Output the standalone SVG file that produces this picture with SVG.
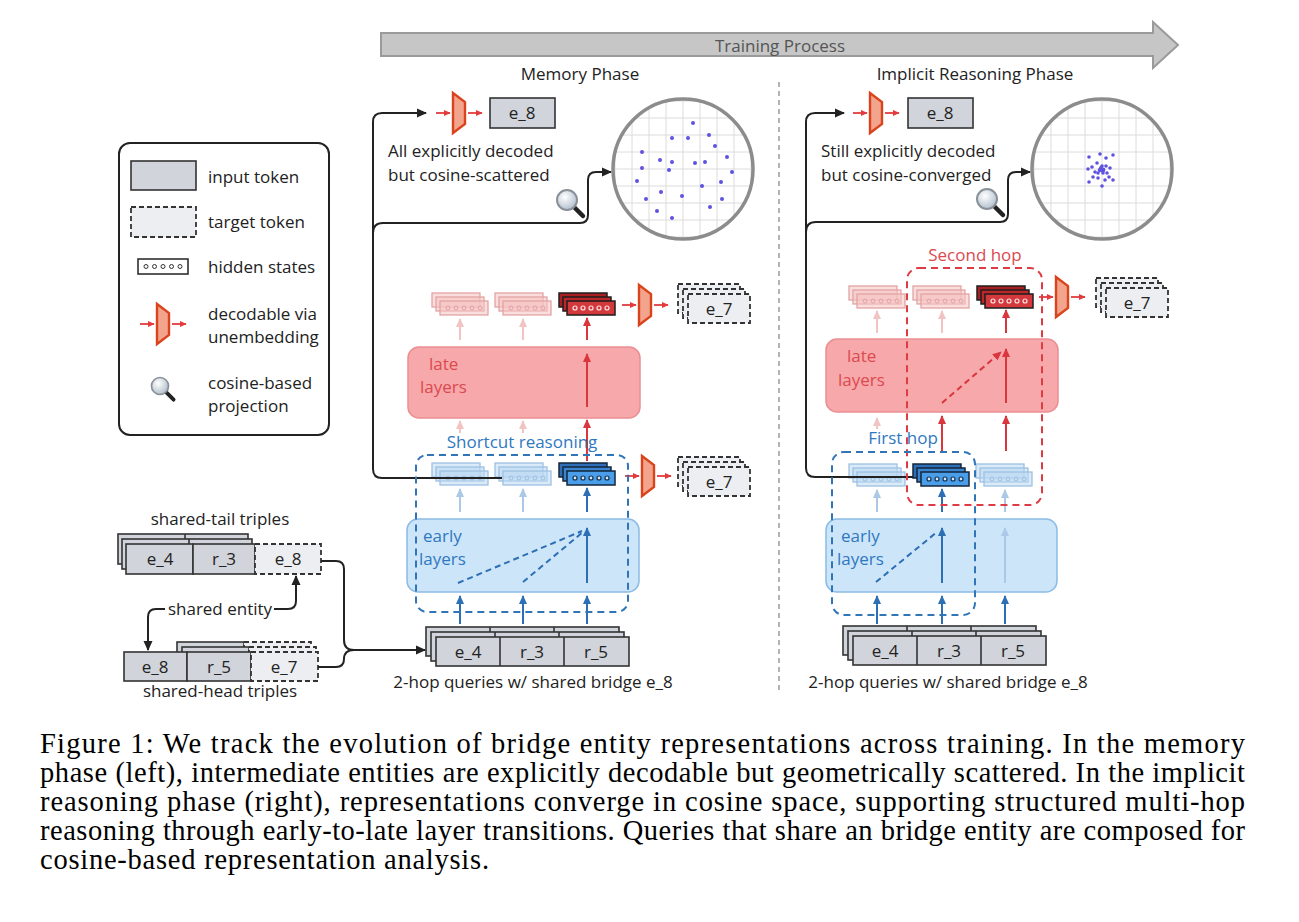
<svg xmlns="http://www.w3.org/2000/svg" width="1299" height="922" viewBox="0 0 1299 922">
<defs>
<style>
text{font-family:"Open Sans","Noto Sans","DejaVu Sans",sans-serif;font-size:17px;fill:#222}
.cap{font-family:"Liberation Serif","Times New Roman",serif;font-size:28.5px;fill:#000}
.mid{text-anchor:middle}
.tok{fill:#d1d4da;stroke:#333;stroke-width:1.6}
.tgt{fill:#eceef1;stroke:#333;stroke-width:1.8;stroke-dasharray:5 3}
.blk{fill:none;stroke:#222;stroke-width:2}
.ab{stroke:#2c6fb4;stroke-width:2;fill:none}
.abf{stroke:#abc9e6;stroke-width:2;fill:none}
.ar{stroke:#d9363e;stroke-width:2;fill:none}
.arf{stroke:#f2c3c3;stroke-width:2;fill:none}
.dash{stroke-dasharray:6 4}
.decar{stroke:#e23b3b;stroke-width:1.8;fill:none}
.bluet{fill:#2f78c0}
.redt{fill:#db4a4f}
.late{fill:#f7a8ab;stroke:#ea8e92;stroke-width:1.5}
.early{fill:#cde5f9;stroke:#8bbce5;stroke-width:1.5}
.grid{stroke:#dcdcdc;stroke-width:1}
.dot{fill:#5e52e0}
.ring{fill:none;stroke:#8c8c8c;stroke-width:3.5}
</style>
<marker id="mk" viewBox="0 0 10 10" refX="9" refY="5" markerWidth="10" markerHeight="10" markerUnits="userSpaceOnUse" orient="auto"><path d="M0,0.5L10,5L0,9.5z" fill="#222"/></marker>
<marker id="mb" viewBox="0 0 10 10" refX="9" refY="5" markerWidth="9" markerHeight="9" markerUnits="userSpaceOnUse" orient="auto"><path d="M0,0.5L10,5L0,9.5z" fill="#2c6fb4"/></marker>
<marker id="mbf" viewBox="0 0 10 10" refX="9" refY="5" markerWidth="9" markerHeight="9" markerUnits="userSpaceOnUse" orient="auto"><path d="M0,0.5L10,5L0,9.5z" fill="#abc9e6"/></marker>
<marker id="mr" viewBox="0 0 10 10" refX="9" refY="5" markerWidth="9" markerHeight="9" markerUnits="userSpaceOnUse" orient="auto"><path d="M0,0.5L10,5L0,9.5z" fill="#d9363e"/></marker>
<marker id="mrf" viewBox="0 0 10 10" refX="9" refY="5" markerWidth="9" markerHeight="9" markerUnits="userSpaceOnUse" orient="auto"><path d="M0,0.5L10,5L0,9.5z" fill="#f2c3c3"/></marker>
<marker id="md" viewBox="0 0 10 10" refX="9" refY="5" markerWidth="7" markerHeight="7" markerUnits="userSpaceOnUse" orient="auto"><path d="M0,0.5L10,5L0,9.5z" fill="#e23b3b"/></marker>
<radialGradient id="lens" cx="40%" cy="35%" r="70%"><stop offset="0" stop-color="#ffffff"/><stop offset="1" stop-color="#aebccb"/></radialGradient>
<clipPath id="c1"><circle cx="683" cy="169" r="70"/></clipPath>
<clipPath id="c2"><circle cx="1102" cy="169" r="70"/></clipPath>
<g id="dec">
<line class="decar" x1="-17" y1="20" x2="-3" y2="20" marker-end="url(#md)"/>
<line class="decar" x1="15" y1="20" x2="29" y2="20" marker-end="url(#md)"/>
<polygon points="0,0 12,9 12,31 0,40" fill="#f3a48c" stroke="#d9441d" stroke-width="2.4" stroke-linejoin="miter"/>
</g>
<g id="dots5"><circle cx="16" cy="15" r="2"/><circle cx="24" cy="15" r="2"/><circle cx="32" cy="15" r="2"/><circle cx="40" cy="15" r="2"/><circle cx="48" cy="15" r="2"/></g>
<g id="hsR" stroke="#1e1e1e" stroke-width="1.5">
<rect x="0" y="0" width="48" height="14" fill="#a81f22"/><rect x="4" y="4" width="48" height="14" fill="#bb2629"/><rect x="8" y="8" width="48" height="14" fill="#d3383c"/>
<use href="#dots5" fill="none" stroke="#fbe3e3" stroke-width="1.2"/>
</g>
<g id="hsRf" stroke="#e3a3a3" stroke-width="1.3">
<rect x="0" y="0" width="48" height="14" fill="#f5c2c2" fill-opacity=".55"/><rect x="4" y="4" width="48" height="14" fill="#f5c2c2" fill-opacity=".55"/><rect x="8" y="8" width="48" height="14" fill="#f5c2c2" fill-opacity=".55"/>
<use href="#dots5" fill="none" stroke="#e3a1a1" stroke-width="1"/>
</g>
<g id="hsB" stroke="#14263a" stroke-width="1.5">
<rect x="0" y="0" width="48" height="14" fill="#2f6fb8"/><rect x="4" y="4" width="48" height="14" fill="#3a84d0"/><rect x="8" y="8" width="48" height="14" fill="#4a9de8"/>
<use href="#dots5" fill="#d6e8f8" stroke="#15304d" stroke-width="1.2"/>
</g>
<g id="hsBf" stroke="#9dc0e2" stroke-width="1.3">
<rect x="0" y="0" width="48" height="14" fill="#bcd8f2" fill-opacity=".55"/><rect x="4" y="4" width="48" height="14" fill="#bcd8f2" fill-opacity=".55"/><rect x="8" y="8" width="48" height="14" fill="#bcd8f2" fill-opacity=".55"/>
<use href="#dots5" fill="none" stroke="#9dc0e2" stroke-width="1"/>
</g>
<g id="e7s">
<rect class="tgt" x="0" y="0" width="62" height="29"/><rect class="tgt" x="5" y="5" width="62" height="29"/><rect class="tgt" x="10" y="10" width="62" height="29"/>
</g>
<g id="qrow"><rect class="tok" x="0" y="0" width="193" height="29"/><line x1="64" y1="0" x2="64" y2="29" stroke="#333" stroke-width="1.6"/><line x1="128" y1="0" x2="128" y2="29" stroke="#333" stroke-width="1.6"/></g>
<g id="q3"><use href="#qrow"/><use href="#qrow" x="5" y="5"/><use href="#qrow" x="10" y="10"/></g>
<g id="mag">
<line x1="6" y1="6" x2="16" y2="16" stroke="#222" stroke-width="4.5" stroke-linecap="round"/>
<circle cx="0" cy="0" r="10" fill="url(#lens)" stroke="#8a9098" stroke-width="2"/>
</g>
</defs>
<rect x="0" y="0" width="1299" height="922" fill="#ffffff"/>

<g id="training-process">
<polygon points="381,33 1153,33 1153,22 1178,45 1153,68 1153,56 381,56" fill="#c6c6c6" stroke="#9a9a9a" stroke-width="2"/>
<text x="780" y="52" class="mid" style="fill:#555">Training Process</text>
</g>
<text x="580" y="80" class="mid">Memory Phase</text>
<text x="975" y="80" class="mid">Implicit Reasoning Phase</text>
<line x1="779" y1="82" x2="779" y2="690" stroke="#9a9a9a" stroke-width="1.5" stroke-dasharray="5 4"/>

<g id="legend">
<rect x="119" y="143" width="210" height="292" rx="11" fill="#fff" stroke="#222" stroke-width="2"/>
<rect class="tok" x="131" y="161" width="65" height="29"/>
<text x="208" y="183">input token</text>
<rect class="tgt" x="131" y="207" width="65" height="30"/>
<text x="208" y="228">target token</text>
<rect x="138" y="259" width="50" height="15" fill="#fff" stroke="#222" stroke-width="1.5"/>
<g fill="none" stroke="#333" stroke-width="1"><circle cx="146" cy="266.5" r="2"/><circle cx="154.5" cy="266.5" r="2"/><circle cx="163" cy="266.5" r="2"/><circle cx="171.5" cy="266.5" r="2"/><circle cx="180" cy="266.5" r="2"/></g>
<text x="208" y="273">hidden states</text>
<use href="#dec" x="157" y="304"/>
<text x="208" y="320">decodable via</text>
<text x="208" y="343">unembedding</text>
<use href="#mag" transform="translate(160,386) scale(0.85)"/>
<text x="208" y="389">cosine-based</text>
<text x="208" y="412">projection</text>
</g>

<!-- LEFT PANEL -->
<g id="left-late-layers"><rect class="late" x="408" y="347" width="232" height="71" rx="11"/><text x="429" y="370" class="redt">late</text><text x="420" y="393" class="redt">layers</text></g>
<g id="left-early-layers"><rect class="early" x="407" y="519" width="232" height="73" rx="11"/><text x="423" y="542" class="bluet">early</text><text x="419" y="565" class="bluet">layers</text></g>
<g id="left-late-states"><use href="#hsRf" x="432" y="293"/><use href="#hsRf" x="495" y="293"/><use href="#hsR" x="559" y="293"/></g>
<g id="left-early-states"><use href="#hsBf" x="432" y="463"/><use href="#hsBf" x="495" y="463"/><use href="#hsB" x="559" y="463"/></g>
<g id="left-dec-late"><use href="#dec" x="639" y="285"/></g>
<g id="left-e7-late"><use href="#e7s" x="678" y="284"/><text x="719" y="315" class="mid">e_7</text></g>
<g id="left-dec-early"><use href="#dec" x="642" y="456"/></g>
<g id="left-e7-early"><use href="#e7s" x="678" y="457"/><text x="719" y="488" class="mid">e_7</text></g>
<g id="left-query"><use href="#q3" x="426" y="627"/><text x="468" y="658" class="mid">e_4</text><text x="532" y="658" class="mid">r_3</text><text x="596" y="658" class="mid">r_5</text></g>
<text x="533" y="688" class="mid">2-hop queries w/ shared bridge e_8</text>
<g id="left-top-decoder"><use href="#dec" x="453" y="93"/><rect class="tok" x="490" y="98" width="65" height="30"/><text x="522" y="119" class="mid">e_8</text></g>
<text x="388" y="157">All explicitly decoded</text>
<text x="388" y="181">but cosine-scattered</text>
<g id="left-mag"><use href="#mag" x="567" y="200"/></g>
<g id="left-circle">
<circle cx="683" cy="169" r="70" fill="#fff"/>
<g clip-path="url(#c1)" class="grid">
<path d="M615,90V250M632,90V250M649,90V250M666,90V250M683,90V250M700,90V250M717,90V250M734,90V250M751,90V250M600,101H770M600,118H770M600,135H770M600,152H770M600,169H770M600,186H770M600,203H770M600,220H770M600,237H770"/>
</g>
<g class="dot">
<circle cx="693" cy="123" r="2"/><circle cx="672" cy="138" r="2"/><circle cx="688" cy="138" r="2"/><circle cx="709" cy="135" r="2"/><circle cx="715" cy="146" r="2"/><circle cx="642" cy="152" r="2"/><circle cx="660" cy="160" r="2"/><circle cx="672" cy="162" r="2"/><circle cx="695" cy="163" r="2"/><circle cx="705" cy="162" r="2"/><circle cx="727" cy="157" r="2"/><circle cx="642" cy="168" r="2"/><circle cx="669" cy="170" r="2"/><circle cx="732" cy="172" r="2"/><circle cx="637" cy="181" r="2"/><circle cx="721" cy="182" r="2"/><circle cx="702" cy="186" r="2"/><circle cx="661" cy="192" r="2"/><circle cx="682" cy="196" r="2"/><circle cx="646" cy="199" r="2"/><circle cx="722" cy="199" r="2"/><circle cx="710" cy="207" r="2"/><circle cx="657" cy="211" r="2"/><circle cx="672" cy="218" r="2"/>
</g>
<circle class="ring" cx="683" cy="169" r="70"/>
</g>

<!-- RIGHT PANEL -->
<g id="right-late-layers"><rect class="late" x="826" y="339" width="232" height="73" rx="11"/><text x="847" y="362" class="redt">late</text><text x="838" y="386" class="redt">layers</text></g>
<g id="right-early-layers"><rect class="early" x="826" y="519" width="231" height="73" rx="11"/><text x="841" y="542" class="bluet">early</text><text x="837" y="565" class="bluet">layers</text></g>
<g id="right-late-states"><use href="#hsRf" x="849" y="286"/><use href="#hsRf" x="913" y="286"/><use href="#hsR" x="977" y="286"/></g>
<g id="right-early-states"><use href="#hsBf" x="849" y="464"/><use href="#hsB" x="913" y="464"/><use href="#hsBf" x="976" y="464"/></g>
<g id="right-dec-late"><use href="#dec" x="1056" y="277"/></g>
<g id="right-e7-late"><use href="#e7s" x="1096" y="278"/><text x="1137" y="309" class="mid">e_7</text></g>
<g id="right-query"><use href="#q3" x="843" y="626"/><text x="885" y="657" class="mid">e_4</text><text x="949" y="657" class="mid">r_3</text><text x="1013" y="657" class="mid">r_5</text></g>
<text x="948" y="688" class="mid">2-hop queries w/ shared bridge e_8</text>
<g id="right-top-decoder"><use href="#dec" x="870" y="93"/><rect class="tok" x="908" y="98" width="65" height="30"/><text x="940" y="119" class="mid">e_8</text></g>
<text x="821" y="157">Still explicitly decoded</text>
<text x="821" y="181">but cosine-converged</text>
<g id="right-mag"><use href="#mag" x="987" y="199"/></g>
<g id="right-circle">
<circle cx="1102" cy="169" r="70" fill="#fff"/>
<g clip-path="url(#c2)" class="grid">
<path d="M1034,90V250M1051,90V250M1068,90V250M1085,90V250M1102,90V250M1119,90V250M1136,90V250M1153,90V250M1170,90V250M1020,101H1190M1020,118H1190M1020,135H1190M1020,152H1190M1020,169H1190M1020,186H1190M1020,203H1190M1020,220H1190M1020,237H1190"/>
</g>
<g class="dot">
<circle cx="1089" cy="157" r="1.8"/><circle cx="1100" cy="154" r="1.8"/><circle cx="1106" cy="158" r="1.8"/><circle cx="1113" cy="155" r="1.8"/><circle cx="1097" cy="163" r="1.8"/><circle cx="1092" cy="167" r="1.8"/><circle cx="1088" cy="169" r="1.8"/><circle cx="1102" cy="166" r="1.8"/><circle cx="1106" cy="166" r="1.8"/><circle cx="1110" cy="168" r="1.8"/><circle cx="1100" cy="170" r="2.2"/><circle cx="1103" cy="170" r="2.4"/><circle cx="1095" cy="172" r="1.8"/><circle cx="1107" cy="173" r="1.8"/><circle cx="1098" cy="173" r="1.8"/><circle cx="1093" cy="177" r="1.8"/><circle cx="1098" cy="178" r="1.8"/><circle cx="1105" cy="180" r="1.8"/><circle cx="1109" cy="177" r="1.8"/><circle cx="1113" cy="180" r="1.8"/><circle cx="1089" cy="182" r="1.8"/><circle cx="1102" cy="186" r="1.8"/><circle cx="1103" cy="173" r="1.8"/><circle cx="1101" cy="168" r="2"/>
</g>
<circle class="ring" cx="1102" cy="169" r="70"/>
</g>

<!-- TRIPLES -->
<text x="220" y="525" class="mid">shared-tail triples</text>
<g id="shared-tail">
<rect class="tok" x="118" y="534" width="130" height="30"/><line x1="185" y1="534" x2="185" y2="544" stroke="#333" stroke-width="1.6"/>
<rect class="tok" x="122" y="539" width="130" height="30"/><line x1="189" y1="539" x2="189" y2="544" stroke="#333" stroke-width="1.6"/>
<rect class="tok" x="126" y="544" width="67" height="30"/><rect class="tok" x="193" y="544" width="62" height="30"/><rect class="tgt" x="255" y="544" width="66" height="30"/>
<text x="160" y="565" class="mid">e_4</text><text x="224" y="565" class="mid">r_3</text><text x="288" y="565" class="mid">e_8</text>
</g>
<text x="220" y="615" class="mid">shared entity</text>
<g id="shared-head">
<rect class="tok" x="177" y="642" width="67" height="29"/><rect class="tgt" x="244" y="642" width="67" height="29"/>
<rect class="tok" x="182" y="647" width="67" height="29"/><rect class="tgt" x="249" y="647" width="67" height="29"/>
<rect class="tok" x="124" y="652" width="63" height="29"/><rect class="tok" x="187" y="652" width="64" height="29"/><rect class="tgt" x="251" y="652" width="67" height="29"/>
<text x="155" y="673" class="mid">e_8</text><text x="219" y="673" class="mid">r_5</text><text x="284" y="673" class="mid">e_7</text>
</g>
<text x="220" y="697" class="mid">shared-head triples</text>

<!-- CONNECTORS -->
<g id="connectors">
<path class="blk" d="M165,609H156Q148,609 148,617V650" marker-end="url(#mk)"/>
<path class="blk" d="M274,609H288Q296,609 296,601V576" marker-end="url(#mk)"/>
<path class="blk" d="M321,561H336Q344,561 344,569V640Q344,650 354,650H425" marker-end="url(#mk)"/>
<path class="blk" d="M318,667H336Q344,667 344,659Q344,650 354,650"/>
<path class="blk" d="M502,478H382Q373,478 373,469V122Q373,113 382,113H426" marker-end="url(#mk)"/>
<path class="blk" d="M373,233Q373,223 383,223H580Q588,223 588,215V180Q588,172 596,172H611" marker-end="url(#mk)"/>
<path class="blk" d="M913,477H815Q806,477 806,468V122Q806,113 815,113H844" marker-end="url(#mk)"/>
<path class="blk" d="M806,232Q806,222 816,222H1000Q1008,222 1008,214V180Q1008,172 1016,172H1030" marker-end="url(#mk)"/>
<line class="arf" x1="460" y1="340" x2="460" y2="319" marker-end="url(#mrf)"/>
<line class="arf" x1="523" y1="340" x2="523" y2="319" marker-end="url(#mrf)"/>
<line class="ar" x1="587" y1="340" x2="587" y2="318" marker-end="url(#mr)"/>
<line class="ar" x1="587" y1="407" x2="587" y2="354" marker-end="url(#mr)"/>
<line class="arf" x1="460" y1="433" x2="460" y2="421" marker-end="url(#mrf)"/>
<line class="arf" x1="523" y1="433" x2="523" y2="421" marker-end="url(#mrf)"/>
<line class="ar" x1="587" y1="461" x2="587" y2="420" marker-end="url(#mr)"/>
<line class="abf" x1="460" y1="512" x2="460" y2="489" marker-end="url(#mbf)"/>
<line class="abf" x1="523" y1="512" x2="523" y2="489" marker-end="url(#mbf)"/>
<line class="ab" x1="587" y1="512" x2="587" y2="488" marker-end="url(#mb)"/>
<line class="ab" x1="587" y1="583" x2="587" y2="528" marker-end="url(#mb)"/>
<line class="ab dash" x1="458" y1="583" x2="582" y2="531"/>
<line class="ab dash" x1="523" y1="582" x2="583" y2="532"/>
<line class="ab" x1="460" y1="624" x2="460" y2="596" marker-end="url(#mb)"/>
<line class="ab" x1="523" y1="624" x2="523" y2="596" marker-end="url(#mb)"/>
<line class="ab" x1="587" y1="624" x2="587" y2="596" marker-end="url(#mb)"/>
<line class="arf" x1="877" y1="333" x2="877" y2="311" marker-end="url(#mrf)"/>
<line class="arf" x1="942" y1="333" x2="942" y2="311" marker-end="url(#mrf)"/>
<line class="ar" x1="1006" y1="333" x2="1006" y2="310" marker-end="url(#mr)"/>
<line class="ar" x1="1006" y1="403" x2="1006" y2="349" marker-end="url(#mr)"/>
<line class="ar dash" x1="942" y1="403" x2="1001" y2="352" marker-end="url(#mr)"/>
<line class="arf" x1="877" y1="429" x2="877" y2="418" marker-end="url(#mrf)"/>
<line class="ar" x1="942" y1="451" x2="942" y2="416" marker-end="url(#mr)"/>
<line class="ar" x1="1006" y1="451" x2="1006" y2="416" marker-end="url(#mr)"/>
<line class="abf" x1="877" y1="512" x2="877" y2="490" marker-end="url(#mbf)"/>
<line class="ab" x1="942" y1="512" x2="942" y2="489" marker-end="url(#mb)"/>
<line class="abf" x1="1005" y1="512" x2="1005" y2="490" marker-end="url(#mbf)"/>
<line class="ab" x1="942" y1="583" x2="942" y2="528" marker-end="url(#mb)"/>
<line class="ab dash" x1="876" y1="582" x2="937" y2="532"/>
<line class="abf" x1="1005" y1="583" x2="1005" y2="528" marker-end="url(#mbf)"/>
<line class="ab" x1="877" y1="624" x2="877" y2="596" marker-end="url(#mb)"/>
<line class="ab" x1="942" y1="624" x2="942" y2="596" marker-end="url(#mb)"/>
<line class="ab" x1="1005" y1="624" x2="1005" y2="596" marker-end="url(#mb)"/>
</g>

<!-- REGION BOXES -->
<g id="shortcut-reasoning">
<rect x="416" y="455" width="212" height="157" rx="11" fill="none" stroke="#2f75b8" stroke-width="2" stroke-dasharray="7 5"/>
<text x="522" y="448" class="mid bluet">Shortcut reasoning</text>
</g>
<g id="second-hop">
<rect x="907" y="268" width="135" height="237" rx="12" fill="none" stroke="#de3c44" stroke-width="2" stroke-dasharray="7 5"/>
<text x="975" y="261" class="mid redt">Second hop</text>
</g>
<g id="first-hop">
<rect x="832" y="452" width="143" height="163" rx="12" fill="none" stroke="#2f75b8" stroke-width="2" stroke-dasharray="7 5"/>
<text x="903" y="444" class="mid bluet">First hop</text>
</g>

<g id="caption">
<text class="cap" x="40" y="753" textLength="1205" lengthAdjust="spacing">Figure 1: We track the evolution of bridge entity representations across training. In the memory</text>
<text class="cap" x="40" y="782" textLength="1205" lengthAdjust="spacing">phase (left), intermediate entities are explicitly decodable but geometrically scattered. In the implicit</text>
<text class="cap" x="40" y="811" textLength="1205" lengthAdjust="spacing">reasoning phase (right), representations converge in cosine space, supporting structured multi-hop</text>
<text class="cap" x="40" y="840" textLength="1205" lengthAdjust="spacing">reasoning through early-to-late layer transitions. Queries that share an bridge entity are composed for</text>
<text class="cap" x="40" y="869" textLength="449" lengthAdjust="spacing">cosine-based representation analysis.</text>
</g>
</svg>
